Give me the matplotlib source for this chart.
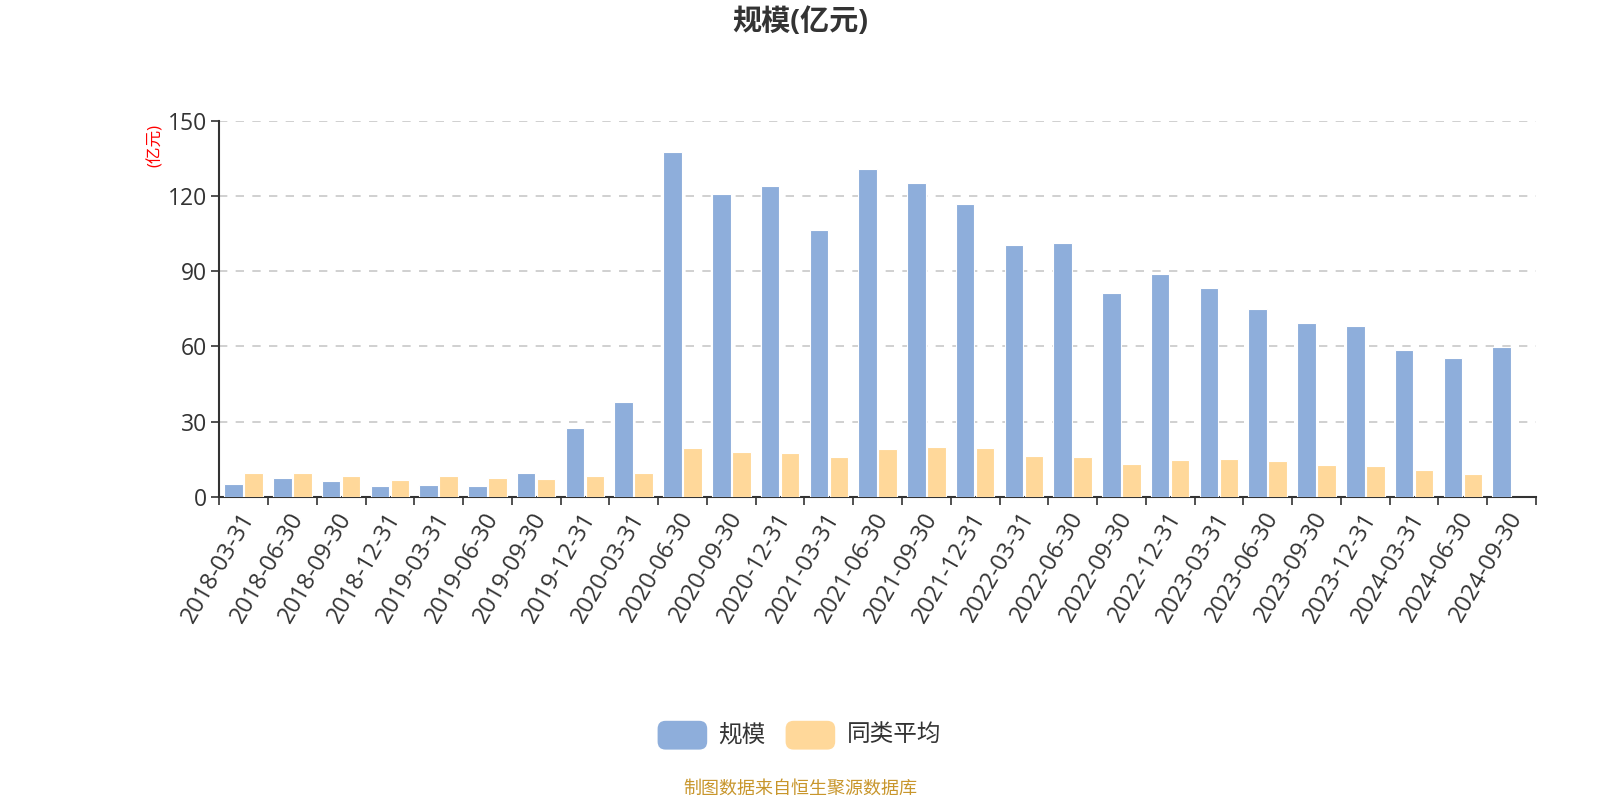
import matplotlib
matplotlib.use('Agg')
from matplotlib import pyplot as plt
from matplotlib.patches import FancyBboxPatch
import numpy as np

plt.rcParams['font.family'] = ['Open Sans', 'Noto Sans CJK SC', 'DejaVu Sans']

dates = ['2018-03-31', '2018-06-30', '2018-09-30', '2018-12-31',
         '2019-03-31', '2019-06-30', '2019-09-30', '2019-12-31',
         '2020-03-31', '2020-06-30', '2020-09-30', '2020-12-31',
         '2021-03-31', '2021-06-30', '2021-09-30', '2021-12-31',
         '2022-03-31', '2022-06-30', '2022-09-30', '2022-12-31',
         '2023-03-31', '2023-06-30', '2023-09-30', '2023-12-31',
         '2024-03-31', '2024-06-30', '2024-09-30']
scale = [5.0, 7.4, 6.4, 4.3, 4.7, 4.4, 9.4, 27.4, 37.9, 137.4, 120.6, 123.8,
         106.3, 130.7, 125.1, 117.0, 100.5, 101.1, 81.5, 88.7, 83.2, 75.0,
         69.5, 68.0, 58.4, 55.3, 59.7]
peer_avg = [9.3, 9.4, 8.2, 6.6, 8.2, 7.4, 7.2, 8.2, 9.3, 19.5, 18.0, 17.4,
            15.8, 18.9, 19.8, 19.5, 16.2, 15.7, 13.0, 14.6, 15.2, 14.2,
            12.5, 12.2, 10.5, 9.0, None]

blue = '#8eaedb'
orange = '#ffd89a'

fig = plt.figure(figsize=(16, 8), dpi=100)
ax = fig.add_axes([0.137, 0.379, 0.823, 0.470])

x = np.arange(len(dates))
w = 0.38
ax.bar(x - 0.205, scale, width=w, color=blue, edgecolor='white', linewidth=0.8, zorder=3)
avg_x = [i for i, v in zip(x, peer_avg) if v is not None]
avg_v = [v for v in peer_avg if v is not None]
ax.bar(np.array(avg_x) + 0.205, avg_v, width=w, color=orange, edgecolor='white', linewidth=0.8, zorder=3)

ax.set_xlim(-0.5, len(dates) - 0.5)
ax.set_ylim(0, 150)
ax.set_yticks([0, 30, 60, 90, 120, 150])
ax.tick_params(axis='y', labelsize=16.5, colors='#333333', length=6, width=1.2, pad=3)
ax.yaxis.grid(True, linestyle=(0, (5, 5)), color='#c8c8c8', linewidth=1.2, zorder=0)

ax.set_xticks(np.arange(-0.5, len(dates), 1.0), minor=False)
ax.set_xticklabels([])
ax.set_xticks(x - 0.1, minor=True)
ax.set_xticklabels(dates, minor=True, rotation=60, ha='right', rotation_mode='anchor',
                   fontsize=17, color='#333333')
ax.tick_params(axis='x', which='major', length=6, width=1.2, color='#333333')
ax.tick_params(axis='x', which='minor', length=0, pad=8)

for side in ['top', 'right']:
    ax.spines[side].set_visible(False)
for side in ['left', 'bottom']:
    ax.spines[side].set_color('#333333')
    ax.spines[side].set_linewidth(1.5)

fig.text(0.5, 0.972, '规模(亿元)', ha='center', va='center', fontsize=21,
         fontweight='bold', color='#333333')
fig.text(0.097, 0.818, '(亿元)', rotation=90, ha='center', va='center',
         fontsize=12, color='red')

# legend
legend_items = [(blue, '规模', 0.411), (orange, '同类平均', 0.491)]
for col, lab, lx in legend_items:
    fig.patches.append(FancyBboxPatch((lx, 0.063), 0.031, 0.036,
                                      boxstyle='round,pad=0,rounding_size=0.005',
                                      transform=fig.transFigure, facecolor=col,
                                      edgecolor='none', mutation_aspect=2))
    fig.text(lx + 0.038, 0.081, lab, ha='left', va='center', fontsize=17, color='#333333')

fig.text(0.5, 0.014, '制图数据来自恒生聚源数据库', ha='center', va='center',
         fontsize=13, color='#c8962c')

fig.savefig('out.png', dpi=100)
